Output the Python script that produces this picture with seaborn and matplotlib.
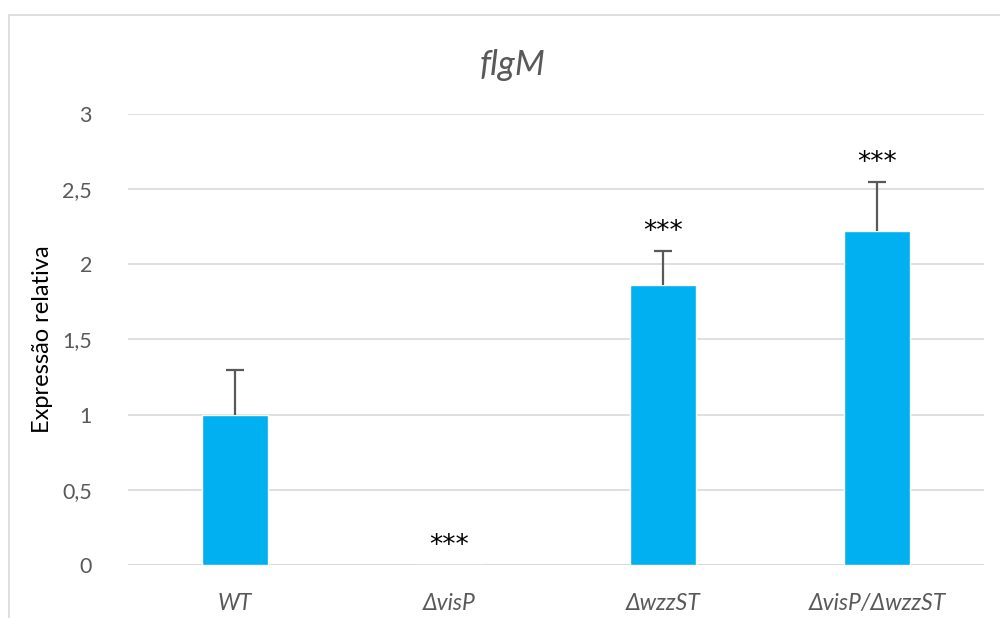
import matplotlib
matplotlib.use("Agg")
import matplotlib.pyplot as plt
import matplotlib.patches as mpatches
import seaborn as sns
import pandas as pd
import numpy as np

# Relative expression of flgM per strain
strains = ["WT", "ΔvisP", "ΔwzzST", "ΔvisP/ΔwzzST"]
expression = [1.0, 0.003, 1.86, 2.22]
error_up = [0.30, 0.0, 0.23, 0.33]
significance = ["", "***", "***", "***"]
y_ticks = [0, 0.5, 1, 1.5, 2, 2.5, 3]
y_tick_labels = ["0", "0,5", "1", "1,5", "2", "2,5", "3"]

sns.set_theme(style="white")
plt.rcParams["font.family"] = ["Lato", "DejaVu Sans"]

bar_color = "#00B0F0"
text_gray = "#595959"
grid_gray = "#D9D9D9"

df = pd.DataFrame({"strain": strains, "expr": expression})

fig = plt.figure(figsize=(10, 6.18), dpi=100)
ax = fig.add_axes([0.128, 0.0858, 0.856, 0.7297])

sns.barplot(data=df, x="strain", y="expr", color=bar_color, width=0.31,
            errorbar=None, saturation=1, ax=ax, zorder=3)

# upper-only error bars: stem from bar top plus a cap at the end
xs = np.arange(len(strains))
vals = np.array(expression)
tops = vals + np.array(error_up)
has_err = np.array(error_up) > 0
ax.vlines(xs[has_err], vals[has_err], tops[has_err], color=text_gray,
          linewidth=1.6, zorder=4)
ax.hlines(tops[has_err], xs[has_err] - 0.04, xs[has_err] + 0.04,
          color=text_gray, linewidth=1.6, zorder=4)

for x, t, s in zip(xs, tops, significance):
    if s:
        ax.annotate(s, (x, t), xytext=(0, 4), textcoords="offset points",
                    ha="center", va="bottom", fontsize=19, color="black",
                    family="DejaVu Sans", zorder=5)

ax.set_ylim(0, 3)
ax.set_xlim(-0.5, len(strains) - 0.5)
ax.set_yticks(y_ticks)
ax.set_yticklabels(y_tick_labels)
ax.yaxis.grid(True, color=grid_gray, linewidth=1.2, zorder=0)
ax.set_axisbelow(True)
for sp in ax.spines.values():
    sp.set_visible(False)
ax.axhline(0, color=grid_gray, linewidth=1.5, zorder=2)

ax.tick_params(axis="y", length=0, pad=26, labelsize=15.5, labelcolor=text_gray)
ax.tick_params(axis="x", length=0, pad=20, labelsize=16.5, labelcolor=text_gray)
for lbl in ax.get_xticklabels():
    lbl.set_fontstyle("italic")

ax.set_xlabel("")
ax.set_ylabel("Expressão relativa", fontsize=17, color="black")
ax.yaxis.set_label_coords(-0.088, 0.5)

fig.text(0.513, 0.895, "flgM", ha="center", va="center", fontsize=25,
         fontstyle="italic", color=text_gray)

# chart frame
frame = mpatches.Rectangle((0.009, -0.05), 1.05, 1.026, transform=fig.transFigure,
                           fill=False, edgecolor="#D9D9D9", linewidth=1.2,
                           clip_on=False)
fig.patches.append(frame)

fig.savefig("out.png", dpi=100)
